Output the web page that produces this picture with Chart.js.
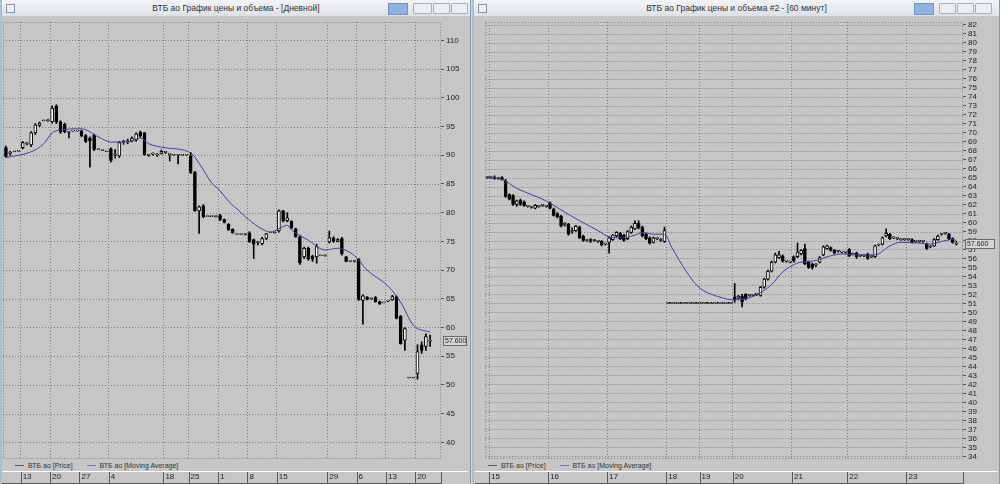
<!DOCTYPE html>
<html>
<head>
<meta charset="utf-8">
<script src="https://cdn.jsdelivr.net/npm/chart.js@4.4.0/dist/chart.umd.min.js"></script>
<style>
  body { margin: 0; width: 1000px; height: 484px; overflow: hidden; background: #cfd5de; font-family: "Liberation Sans", Arial, sans-serif; }
  .win { position: absolute; top: 0; height: 484px; background: #c6c6c6; box-sizing: border-box; border-left: 2px solid #a9bfd8; border-right: 1px solid #8c98a8; }
  .title { position: absolute; left: 0; right: 0; top: 0; height: 16px; background: linear-gradient(#f3f4f7, #dde1e7); font-size: 8.5px; color: #333; text-align: center; line-height: 16px; }
  .ico { position: absolute; left: 4px; top: 4px; width: 7px; height: 7px; border: 1px solid #8895a5; background: #eef; }
  .btn { position: absolute; top: 3px; height: 9px; border: 1px solid #a8b0bc; background: #eceef2; border-radius: 1px; }
  .pin { position: absolute; top: 3px; height: 10px; background: #8fb2e2; border: 1px solid #6f93c9; }
  canvas { position: absolute; top: 16px; }
  .legend { position: absolute; top: 461px; font-size: 7px; color: #333; white-space: nowrap; }
  .legend span { display: inline-block; vertical-align: middle; }
  .ln { width: 9px; height: 1px; margin-right: 4px; }
</style>
</head>
<body>

<div class="win" style="left:0;width:471px;">
  <div class="title">ВТБ ао График цены и объема - [Дневной]</div>
  <div class="ico"></div>
  <div class="pin" style="left:386px;width:18px;"></div>
  <div class="btn" style="left:411px;width:17px;"></div>
  <div class="btn" style="left:431px;width:15px;"></div>
  <div class="btn" style="left:449px;width:15px;"></div>
  <div class="legend" style="left:13px;"><span class="ln" style="background:#555"></span><span>ВТБ ао [Price]</span><span class="ln" style="background:#7a7ab0;margin-left:14px"></span><span>ВТБ ао [Moving Average]</span></div>
</div>
<canvas id="leftChart" width="466" height="468" style="left:2px;"></canvas>

<div class="win" style="left:472px;width:528px;">
  <div class="title">ВТБ ао График цены и объема #2 - [60 минут]</div>
  <div class="ico"></div>
  <div class="pin" style="left:440px;width:18px;"></div>
  <div class="btn" style="left:465px;width:15px;"></div>
  <div class="btn" style="left:483px;width:15px;"></div>
  <div class="btn" style="left:501px;width:15px;"></div>
  <div class="legend" style="left:14px;"><span class="ln" style="background:#555"></span><span>ВТБ ао [Price]</span><span class="ln" style="background:#7a7ab0;margin-left:14px"></span><span>ВТБ ао [Moving Average]</span></div>
</div>
<canvas id="rightChart" width="523" height="468" style="left:475px;"></canvas>

<script>
// ---- Дневной (daily) ----
const leftTickPos = [3.5, 10.5, 17.5, 24.5, 37.5, 43.5, 50.5, 57.5, 64.5, 76.5, 83.5, 90.5, 97.5];
const leftTickLabels = ['13', '20', '27', '4', '18', '25', '1', '8', '15', '29', '6', '13', '20'];

const leftOpen = [91.3,90.3,90.6,90.7,91.3,92.0,91.8,93.9,95.2,96.0,96.0,95.8,98.5,95.8,95.4,94.0,94.2,94.2,94.2,93.4,
  93.0,93.5,91.0,90.8,90.6,91.1,90.0,89.9,92.3,92.3,92.5,92.6,94.0,93.9,90.0,90.2,90.0,90.3,90.5,90.1,
  90.0,90.0,90.0,90.0,89.8,87.0,80.3,81.2,79.3,79.3,79.3,79.5,78.8,78.0,77.1,76.2,76.2,76.2,76.5,75.3,
  74.8,74.6,75.5,76.5,76.5,76.8,80.3,78.6,78.5,77.2,75.8,72.3,73.8,72.4,72.3,72.5,72.5,74.9,75.6,75.0,
  75.5,72.3,71.5,71.5,71.9,64.7,65.3,65.0,65.2,64.5,64.3,64.6,64.8,65.4,62.0,57.8,51.2,51.2,52.0,57.0,
  56.7,57.6];
const leftHigh = [91.6,90.7,90.6,90.7,92.4,92.2,94.1,95.5,95.8,96.0,96.2,98.6,98.8,96.0,95.6,94.1,94.2,94.2,94.4,93.6,
  93.2,93.7,91.0,90.8,90.6,91.3,91.0,92.4,92.6,92.8,93.2,93.9,94.2,94.0,90.1,90.4,90.3,90.9,90.6,90.2,
  90.0,90.1,90.0,90.0,90.5,87.2,81.2,81.4,79.3,79.3,79.4,79.7,78.9,78.1,77.2,76.2,76.2,76.3,76.7,75.4,
  75.0,75.7,76.4,76.5,76.6,80.5,80.4,80.0,78.6,77.3,76.0,74.0,74.0,72.6,74.5,72.5,72.6,76.8,75.8,75.5,
  75.7,72.4,71.5,71.6,72.0,65.7,65.4,65.1,65.4,64.6,64.3,64.7,65.6,65.5,62.1,60.0,51.2,51.2,57.0,57.5,
  58.9,58.7];
const leftLow = [89.6,90.0,90.6,90.7,91.1,91.8,91.5,93.6,95.0,96.0,95.9,95.6,95.5,93.8,93.9,93.0,94.2,94.2,93.2,92.2,
  87.9,90.8,91.0,90.8,90.6,88.8,89.5,89.6,91.9,92.0,92.3,92.4,93.1,90.0,89.8,90.0,89.8,90.2,90.3,89.0,
  90.0,88.5,90.0,90.0,86.8,80.2,76.4,79.1,79.3,79.3,79.2,78.6,78.2,76.9,76.4,76.2,76.2,76.1,74.8,72.0,
  74.4,74.4,75.3,76.5,76.4,76.6,78.4,78.4,77.2,75.7,71.0,72.0,71.7,71.5,71.2,72.5,72.4,74.7,74.8,74.9,
  72.6,71.4,71.5,71.4,64.7,60.6,64.8,64.9,64.4,64.0,64.3,64.5,64.7,61.5,57.1,56.0,51.2,51.2,51.0,55.5,
  56.0,56.7];
const leftClose = [89.8,90.5,90.6,90.7,92.2,92.0,93.9,95.3,95.6,96.0,96.0,98.2,95.8,94.0,94.1,94.0,94.2,94.2,93.4,92.4,
  92.5,91.0,91.0,90.8,90.6,89.1,90.0,92.2,92.3,92.5,93.0,93.7,93.3,90.1,90.0,90.2,90.0,90.7,90.5,90.1,
  90.0,90.0,90.0,90.0,87.0,80.3,81.0,79.3,79.3,79.3,79.3,78.8,78.3,77.0,76.5,76.2,76.2,76.2,74.9,74.5,
  74.8,75.5,76.3,76.5,76.5,80.3,78.5,79.1,77.3,75.8,71.3,73.8,71.9,71.9,74.1,72.5,72.5,75.6,75.0,75.3,
  72.8,71.5,71.5,71.5,64.9,65.5,64.9,65.0,64.5,64.1,64.3,64.6,65.4,61.6,57.2,59.8,51.2,51.2,55.8,56.0,
  58.4,57.6];
const leftMaIdx = [0, 6, 9, 11, 13, 18, 22, 25, 29, 32, 34, 38, 44, 46, 49, 51, 53, 56, 57, 60, 63, 65, 67, 68, 72, 76, 79, 83, 86, 91, 94, 97, 101];
const leftMaVal = [89.6, 90.6, 92.0, 93.9, 94.4, 94.6, 93.2, 92.3, 92.3, 93.0, 92.0, 91.3, 90.4, 88.6, 85.2, 83.8, 82.0, 80.0, 79.3, 77.6, 76.6, 77.2, 77.8, 77.0, 75.2, 73.5, 73.8, 72.5, 70.0, 67.2, 64.4, 60.4, 59.2];

// ---- 60 минут (hourly) ----
const rightTickPos = [0.5, 16.5, 32.5, 48.5, 57.5, 66.5, 82.5, 97.5, 113.5];
const rightTickLabels = ['15', '16', '17', '18', '19', '20', '21', '22', '23'];

const rightOpen = [65.0,65.0,65.0,64.9,65.0,64.6,63.1,63.0,62.0,62.5,62.3,61.8,61.7,61.6,61.8,61.9,61.8,62.2,61.5,61.0,
  60.7,59.8,59.8,59.0,59.1,59.5,58.5,58.0,58.1,58.0,57.9,57.9,57.6,57.8,58.1,58.5,58.8,58.6,58.2,58.9,
  59.3,59.9,59.5,58.7,58.3,57.8,58.2,58.0,57.9,51.0,51.0,51.0,51.0,51.0,51.0,51.0,51.0,51.0,51.0,51.0,
  51.0,51.0,51.0,51.0,51.0,51.0,51.0,51.7,51.6,51.8,52.0,51.9,51.9,52.0,51.9,52.8,53.7,54.6,55.6,56.1,
  56.3,55.7,55.6,56.2,56.2,56.5,57.1,55.6,55.4,55.3,55.6,56.4,57.1,57.2,56.9,56.8,56.7,56.7,57.0,56.5,
  56.6,56.3,56.3,56.5,56.2,56.2,57.5,57.6,58.5,58.7,58.3,58.2,58.1,58.1,58.1,58.1,57.9,57.9,57.9,57.6,
  57.3,57.4,58.1,58.7,58.8,58.7,58.2,57.6];
const rightHigh = [65.1,65.1,65.2,65.0,65.1,64.8,63.2,63.1,62.5,62.6,62.4,61.9,61.8,62.0,61.9,62.0,61.9,62.3,61.6,61.1,
  60.8,60.0,59.9,59.4,59.7,59.6,58.6,58.1,58.2,58.1,58.0,58.0,57.7,58.4,58.7,59.0,58.9,58.7,59.1,59.6,
  60.2,60.2,59.6,58.8,58.4,58.4,58.3,58.2,59.5,51.0,51.0,51.0,51.0,51.0,51.0,51.0,51.0,51.0,51.0,51.0,
  51.0,51.0,51.0,51.0,51.0,51.0,51.0,53.2,51.9,52.0,52.1,52.0,52.0,52.1,52.9,53.8,54.7,55.7,56.6,56.8,
  56.4,55.8,55.7,56.3,57.7,57.0,57.6,55.7,55.5,55.4,56.2,57.4,57.5,57.3,57.0,56.9,56.8,56.8,57.1,56.6,
  56.7,56.4,56.4,56.6,56.3,57.5,57.6,58.4,59.3,58.8,58.4,58.3,58.2,58.2,58.2,58.2,58.0,58.0,58.0,57.7,
  57.4,58.2,58.6,58.8,58.9,58.8,58.3,57.9];
const rightLow = [64.9,64.9,64.8,64.8,64.7,62.8,62.5,61.9,61.8,61.9,61.8,61.7,61.6,61.5,61.7,61.8,61.7,61.5,60.7,60.5,
  59.5,59.6,58.6,58.8,59.0,58.2,57.9,57.9,57.8,57.9,57.8,57.4,57.5,56.6,58.0,58.4,58.1,57.9,58.1,58.8,
  59.2,59.3,58.4,58.1,57.6,57.7,58.1,57.9,57.8,51.0,51.0,51.0,51.0,51.0,51.0,51.0,51.0,51.0,51.0,51.0,
  51.0,51.0,51.0,51.0,51.0,51.0,51.0,51.1,51.5,50.6,51.4,51.8,51.8,51.9,51.8,52.7,53.6,54.5,55.5,56.0,
  55.6,55.6,55.5,55.6,56.1,56.4,55.3,54.9,54.8,55.1,55.5,56.3,57.0,56.8,56.5,56.7,56.6,56.6,56.2,56.4,
  56.0,56.2,56.2,55.9,56.1,56.1,57.4,57.5,58.4,58.1,58.2,58.1,58.0,58.0,58.0,57.7,57.8,57.8,57.8,57.0,
  57.2,57.3,58.0,58.6,58.7,58.1,57.7,57.5];
const rightClose = [65.0,65.0,64.9,64.9,64.8,62.9,62.6,62.0,62.4,62.0,61.9,61.8,61.7,61.9,61.8,61.9,61.8,61.6,60.8,60.6,
  59.6,59.8,58.7,59.0,59.6,58.3,58.0,58.0,57.9,58.0,57.9,57.5,57.6,58.3,58.6,58.9,58.2,58.0,59.0,59.5,
  59.9,59.4,58.5,58.2,57.7,58.3,58.2,58.1,59.1,51.0,51.0,51.0,51.0,51.0,51.0,51.0,51.0,51.0,51.0,51.0,
  51.0,51.0,51.0,51.0,51.0,51.0,51.0,51.4,51.8,51.2,51.5,51.9,51.9,52.0,52.8,53.7,54.6,55.6,56.4,56.4,
  55.7,55.7,55.6,55.7,56.7,56.9,55.4,55.0,55.0,55.3,56.1,57.3,57.4,56.9,56.6,56.8,56.7,56.7,56.3,56.5,
  56.2,56.3,56.3,56.0,56.2,57.4,57.5,58.3,58.8,58.2,58.3,58.2,58.1,58.1,58.1,57.8,57.9,57.9,57.9,57.1,
  57.3,58.1,58.5,58.7,58.8,58.2,57.8,57.6];
const rightMaIdx = [0, 4, 8, 12, 16, 20, 25, 30, 33, 36, 40, 42, 45, 48, 50, 54, 57, 63, 67, 72, 77, 80, 85, 88, 93, 96, 101, 105, 109, 112, 117, 120, 123, 126, 127];
const rightMaVal = [65.0, 64.8, 63.8, 63.1, 62.4, 61.4, 60.2, 59.1, 58.4, 58.3, 58.6, 58.9, 58.7, 58.7, 57.2, 54.5, 52.9, 51.7, 51.4, 51.8, 53.1, 54.5, 55.6, 55.7, 56.3, 56.5, 56.4, 56.4, 57.4, 57.8, 57.7, 57.6, 57.9, 58.1, 58.0];

const tickFont = { family: 'Liberation Sans', size: 8, lineHeight: 1 };
const gridColor = '#7e7e7e';

// horizontal grid, frame, date strip separators and last-price box
const chromePlugin = {
  id: 'chrome',
  beforeDatasetsDraw(chart, args, opts) {
    const { ctx, chartArea: a, scales } = chart;
    ctx.save();
    ctx.strokeStyle = gridColor;
    ctx.lineWidth = 1;
    ctx.setLineDash([1, 2]);
    scales.y.ticks.forEach(t => {
      if (Math.round(t.value) % opts.gridStep !== 0) return;
      const py = Math.round(scales.y.getPixelForValue(t.value)) + 0.5;
      ctx.beginPath();
      ctx.moveTo(a.left, py);
      ctx.lineTo(a.right, py);
      ctx.stroke();
    });
    ctx.restore();
  },
  afterDraw(chart, args, opts) {
    const { ctx, chartArea: a, scales } = chart;
    const x = scales.x, y = scales.y;
    ctx.save();
    ctx.strokeStyle = gridColor;
    ctx.lineWidth = 1;
    ctx.setLineDash([1, 2]);
    ctx.strokeRect(a.left + 0.5, a.top + 0.5, a.width - 1, a.height - 1);
    ctx.setLineDash([]);

    const sy = a.bottom + 12;
    ctx.fillStyle = '#ffffff';
    ctx.fillRect(0, sy, chart.width, 1);
    ctx.fillStyle = '#5a5a5a';
    ctx.fillRect(0, chart.height - 1, a.right, 1);
    ctx.fillRect(a.right, sy + 1, 1, chart.height - sy - 1);
    x.ticks.forEach(t => {
      const px = Math.round(x.getPixelForValue(t.value));
      ctx.fillRect(px, sy + 1, 1, chart.height - sy - 2);
    });

    const py = Math.round(y.getPixelForValue(opts.last));
    ctx.fillStyle = '#d6d6d6';
    ctx.fillRect(a.right + 2, py - 5, opts.boxW, 10);
    ctx.strokeStyle = '#6a6a6a';
    ctx.strokeRect(a.right + 2.5, py - 4.5, opts.boxW - 1, 9);
    ctx.fillStyle = '#222';
    ctx.font = '7px "Liberation Sans"';
    ctx.textBaseline = 'middle';
    ctx.fillText(opts.last.toFixed(3), a.right + 4, py + 0.5);
    ctx.restore();
  }
};

function makeChart(id, o, h, l, c, maIdx, maVal, tickPos, tickLabels, xMin, xMax, yMin, yMax, yStep, gridStep, yWidth, padLeft, boxW) {
  const wicks = o.map((v, i) => ({ x: i, y: [l[i], h[i]] }));
  const bodies = o.map((v, i) => ({ x: i, y: [o[i], c[i]] }));
  const ma = maIdx.map((v, i) => ({ x: v, y: maVal[i] }));
  return new Chart(document.getElementById(id), {
    type: 'bar',
    data: {
      datasets: [
        {
          type: 'line',
          label: 'ВТБ ао [Moving Average]',
          data: ma,
          borderColor: '#3f3fa8',
          borderWidth: 1,
          pointRadius: 0,
          cubicInterpolationMode: 'monotone',
          order: 0
        },
        {
          label: 'wick',
          data: wicks,
          backgroundColor: '#000',
          barThickness: 1,
          grouped: false,
          order: 2
        },
        {
          label: 'ВТБ ао [Price]',
          data: bodies,
          backgroundColor: ctx => (c[ctx.dataIndex] >= o[ctx.dataIndex] ? '#ffffff' : '#000000'),
          borderColor: '#000',
          borderWidth: 1,
          borderSkipped: false,
          barThickness: 3,
          minBarLength: 1,
          grouped: false,
          order: 1
        }
      ]
    },
    options: {
      responsive: false,
      animation: false,
      layout: { padding: { left: padLeft, top: 2, right: 0, bottom: 0 } },
      plugins: {
        legend: { display: false },
        tooltip: { enabled: false },
        chrome: { last: c[c.length - 1], boxW: boxW, gridStep: gridStep }
      },
      scales: {
        x: {
          type: 'linear',
          min: xMin,
          max: xMax,
          offset: false,
          afterBuildTicks: s => { s.ticks = tickPos.map(v => ({ value: v })); },
          afterFit: s => { s.height = 25; },
          ticks: {
            callback: (v, i) => tickLabels[i],
            font: tickFont,
            color: '#222',
            align: 'start',
            labelOffset: 2,
            padding: 14,
            maxRotation: 0,
            autoSkip: false
          },
          grid: { color: gridColor, drawTicks: false, offset: false },
          border: { display: false, dash: [1, 2] }
        },
        y: {
          position: 'right',
          min: yMin,
          max: yMax,
          afterFit: s => { s.width = yWidth; },
          ticks: {
            stepSize: yStep,
            includeBounds: false,
            autoSkip: false,
            font: tickFont,
            color: '#222',
            padding: 2
          },
          grid: { drawOnChartArea: false, tickColor: '#555', tickLength: 3 },
          border: { display: false }
        }
      }
    },
    plugins: [chromePlugin]
  });
}

makeChart('leftChart', leftOpen, leftHigh, leftLow, leftClose, leftMaIdx, leftMaVal,
  leftTickPos, leftTickLabels, -0.7, 103.6, 37.1, 113.2, 5, 5, 27, 1, 24);
makeChart('rightChart', rightOpen, rightHigh, rightLow, rightClose, rightMaIdx, rightMaVal,
  rightTickPos, rightTickLabels, -0.5, 128.8, 33.7, 82.3, 1, 1, 35, 3, 30);
</script>
</body>
</html>
